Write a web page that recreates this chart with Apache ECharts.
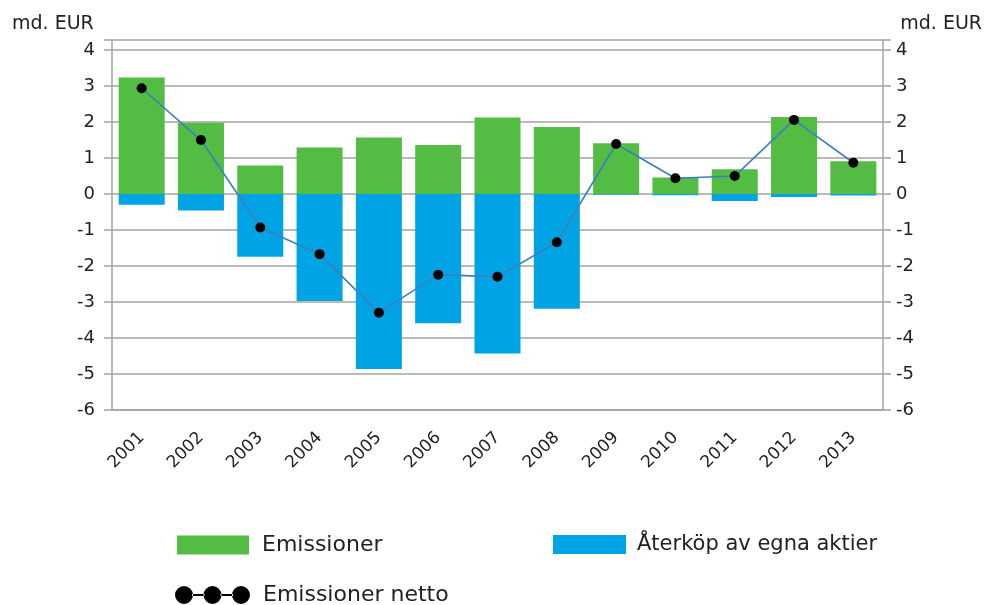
<!DOCTYPE html>
<html>
<head>
<meta charset="utf-8">
<script src="https://cdn.jsdelivr.net/npm/echarts@6/dist/echarts.min.js"></script>
<style>
  html, body { margin: 0; padding: 0; background: #fff; }
  #chart { width: 986px; height: 605px; }
</style>
</head>
<body>
<div id="chart"></div>
<script>
// data (md. EUR)
var years = ["2001", "2002", "2003", "2004", "2005", "2006", "2007", "2008", "2009", "2010", "2011", "2012", "2013"];
var emissioner = [3.24, 1.98, 0.79, 1.29, 1.57, 1.36, 2.13, 1.86, 1.41, 0.46, 0.69, 2.14, 0.91];
var aterkop = [-0.30, -0.46, -1.74, -2.97, -4.86, -3.59, -4.43, -3.19, -0.02, -0.03, -0.19, -0.08, -0.04];
var netto = [2.94, 1.50, -0.93, -1.67, -3.30, -2.24, -2.30, -1.34, 1.39, 0.44, 0.50, 2.06, 0.87];
var yMin = -6;
var yMax = 4.28;
var yStep = 1;
var unit = "md. EUR";

var font = "DejaVu Sans";
var gridColor = "#a3a3a3";
var textColor = "#222";

function tickLabel(v) {
  return Math.abs(v - Math.round(v)) < 1e-6 ? String(Math.round(v)) : "";
}

function yAxisDef(pos) {
  return {
    type: "value",
    position: pos,
    min: yMin,
    max: yMax,
    interval: yStep,
    axisLine: { show: true, lineStyle: { color: gridColor, width: 1.5 } },
    axisTick: { show: true, length: 8, lineStyle: { color: gridColor, width: 1.5 } },
    axisLabel: {
      color: textColor,
      fontFamily: font,
      fontSize: 18,
      margin: pos === "left" ? 17 : 13,
      formatter: tickLabel
    },
    splitLine: { show: pos === "left", lineStyle: { color: gridColor, width: 1.5 } }
  };
}

var chart = echarts.init(document.getElementById("chart"));
chart.setOption({
  animation: false,
  backgroundColor: "#fff",
  title: [
    { text: unit, left: 12, top: 15, padding: 0, textStyle: { fontFamily: font, fontSize: 19, fontWeight: "normal", color: textColor } },
    { text: unit, right: 4, top: 15, padding: 0, textStyle: { fontFamily: font, fontSize: 19, fontWeight: "normal", color: textColor } }
  ],
  grid: { left: 112, right: 103, top: 40, bottom: 195 },
  legend: [
    {
      data: ["Emissioner"],
      left: 177, top: 534, padding: 0,
      itemWidth: 72, itemHeight: 19, icon: "rect",
      textStyle: { fontFamily: font, fontSize: 22, color: textColor, padding: [0, 0, 0, 8] }
    },
    {
      data: ["Återköp av egna aktier"],
      left: 553, top: 534, padding: 0,
      itemWidth: 73, itemHeight: 19, icon: "rect",
      textStyle: { fontFamily: font, fontSize: 21, color: textColor, padding: [0, 0, 0, 6] }
    },
    {
      data: ["Emissioner netto"],
      left: 175, top: 584, padding: 0,
      itemWidth: 75, itemHeight: 18,
      icon: "path://M0,9a9,9 0 1,0 18,0a9,9 0 1,0 -18,0ZM28.5,9a9,9 0 1,0 18,0a9,9 0 1,0 -18,0ZM57,9a9,9 0 1,0 18,0a9,9 0 1,0 -18,0ZM17,8h12.5v2h-12.5ZM45.5,8h12.5v2h-12.5Z",
      textStyle: { fontFamily: font, fontSize: 22, color: textColor, padding: [0, 0, 0, 8] }
    }
  ],
  xAxis: {
    type: "category",
    data: years,
    axisLine: { onZero: false, lineStyle: { color: gridColor, width: 1.5 } },
    axisTick: { show: false },
    axisLabel: {
      color: textColor,
      fontFamily: font,
      fontSize: 17,
      rotate: 45,
      margin: 25,
      interval: 0
    }
  },
  yAxis: [yAxisDef("left"), yAxisDef("right")],
  series: [
    {
      name: "Emissioner",
      type: "bar",
      stack: "total",
      barWidth: 46,
      data: emissioner,
      itemStyle: { color: "#53bd43" }
    },
    {
      name: "Återköp av egna aktier",
      type: "bar",
      stack: "total",
      barWidth: 46,
      data: aterkop,
      itemStyle: { color: "#00a4e4" }
    },
    {
      name: "Emissioner netto",
      type: "line",
      data: netto,
      symbol: "circle",
      symbolSize: 10,
      lineStyle: { color: "#3a7fc3", width: 1.6 },
      itemStyle: { color: "#000" },
      z: 5
    }
  ]
});
</script>
</body>
</html>
